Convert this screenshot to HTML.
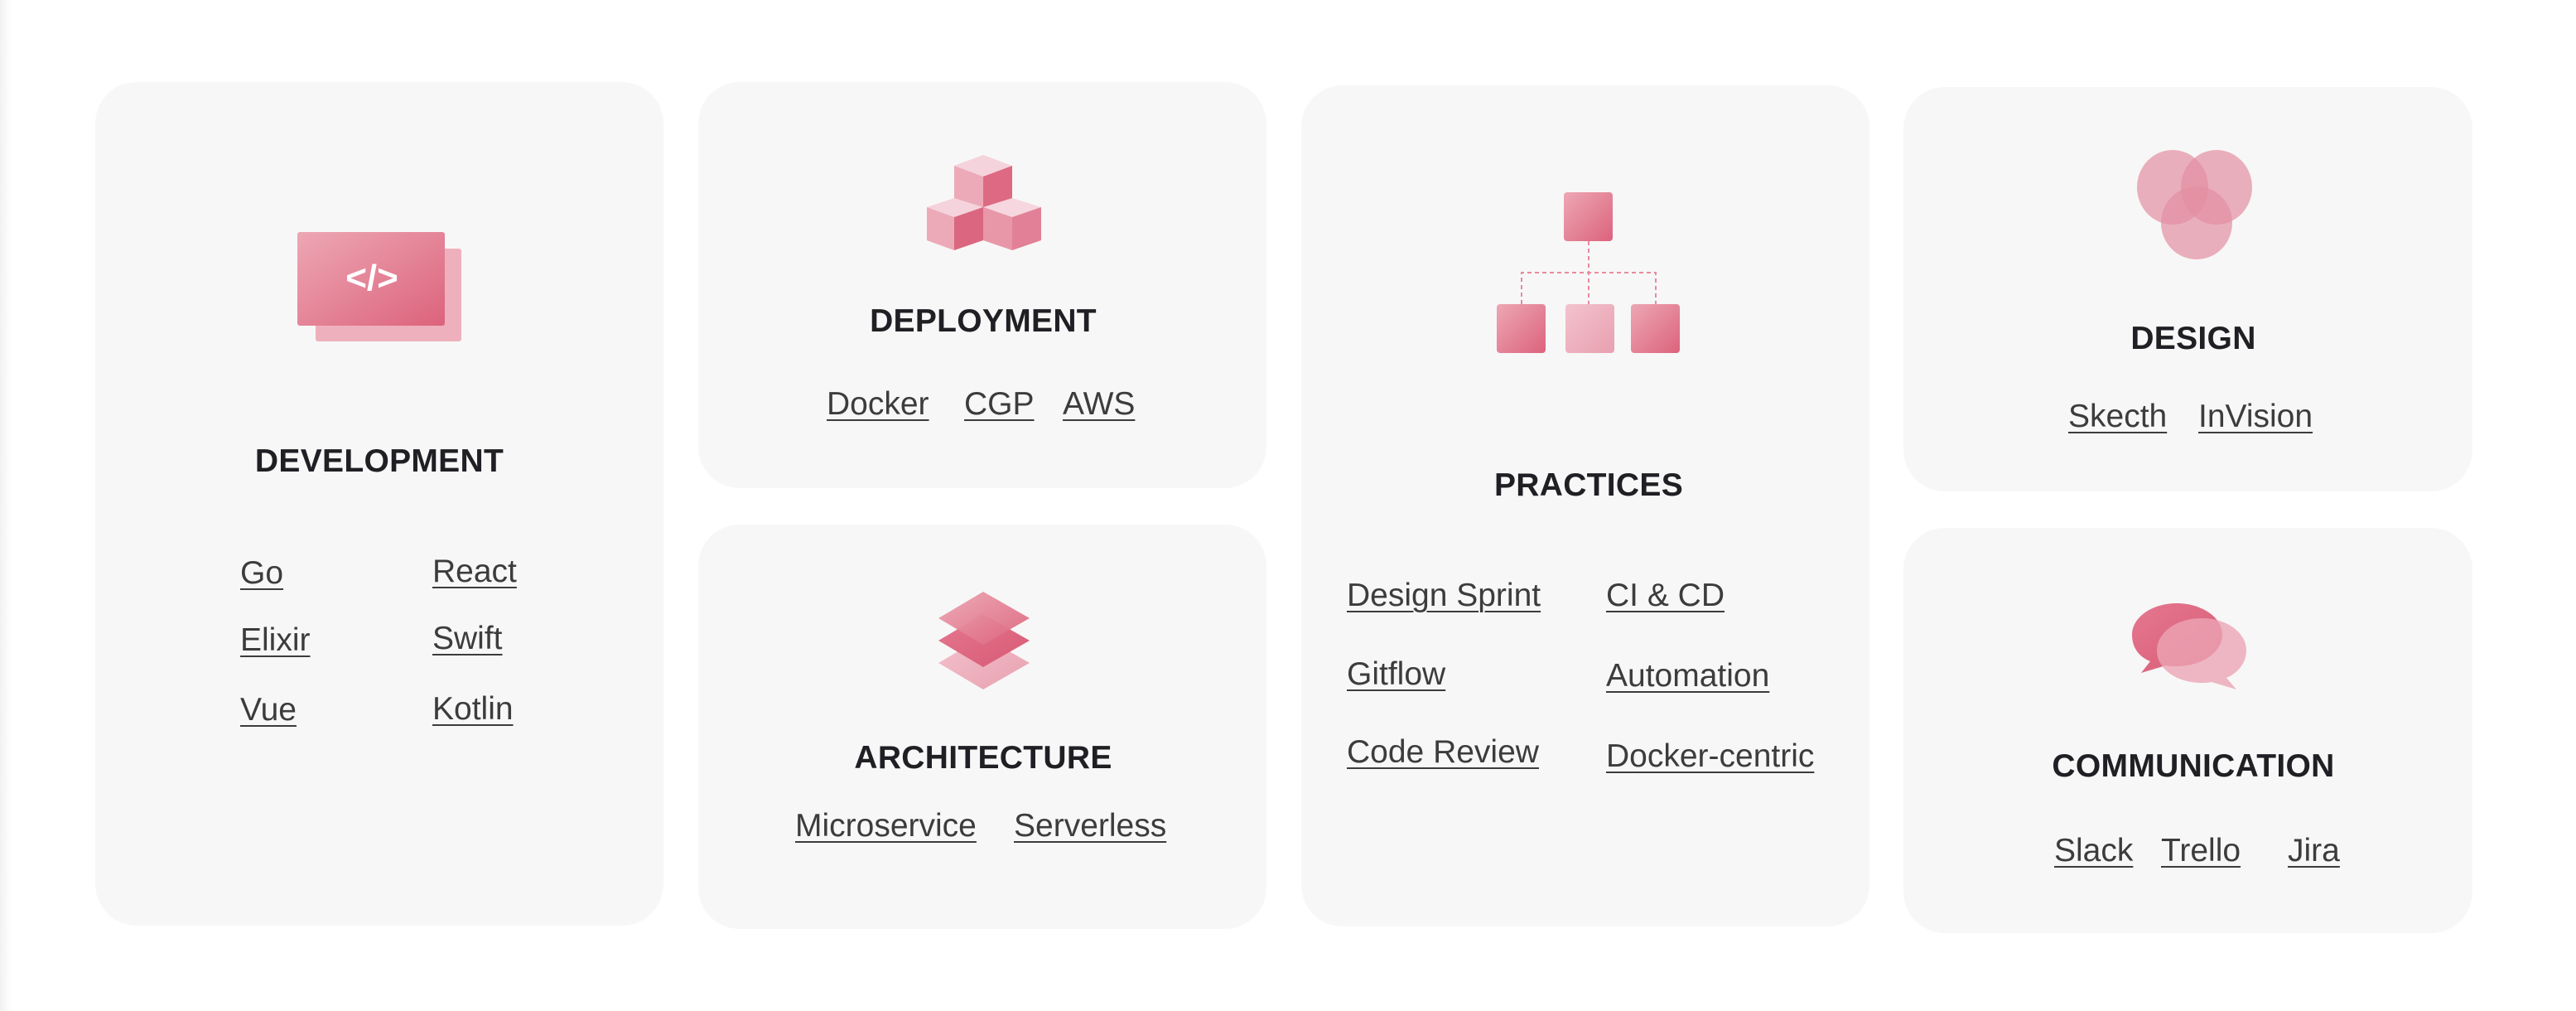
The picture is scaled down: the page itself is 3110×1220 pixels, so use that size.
<!DOCTYPE html>
<html><head><meta charset="utf-8"><style>
html,body{margin:0;padding:0;}
body{width:3110px;height:1220px;background:#fff;position:relative;overflow:hidden;font-family:"Liberation Sans",sans-serif;}
.edge{position:absolute;left:0;top:0;width:14px;height:1220px;background:linear-gradient(90deg,#f2f2f2,#fff);}
.card{position:absolute;background:#f7f7f7;border-radius:50px;}
.t{position:absolute;transform:translateX(-50%);font-weight:bold;font-size:39px;line-height:44px;color:#1f1f24;white-space:nowrap;letter-spacing:0.3px;}
.l{position:absolute;font-size:39px;line-height:44px;color:#3c3c3c;text-decoration:underline;text-decoration-thickness:2px;text-underline-offset:6px;white-space:nowrap;}
svg{position:absolute;left:0;top:0;}
</style></head><body>
<div class="edge"></div>
<div class="card" style="left:115px;top:99px;width:686px;height:1018px"></div>
<div class="card" style="left:843px;top:99px;width:686px;height:490px"></div>
<div class="card" style="left:843px;top:633px;width:686px;height:488px"></div>
<div class="card" style="left:1571px;top:103px;width:686px;height:1015px"></div>
<div class="card" style="left:2298px;top:105px;width:687px;height:488px"></div>
<div class="card" style="left:2298px;top:637px;width:687px;height:489px"></div>

<svg width="3110" height="1220" viewBox="0 0 3110 1220">
<defs>
<linearGradient id="g1" x1="0" y1="0" x2="1" y2="1"><stop offset="0" stop-color="#eda7b4"/><stop offset="1" stop-color="#dc637c"/></linearGradient>
<linearGradient id="g2" x1="0" y1="0" x2="1" y2="1"><stop offset="0" stop-color="#f3c3cd"/><stop offset="1" stop-color="#e8a0b0"/></linearGradient>
<linearGradient id="g3" x1="0" y1="0" x2="1" y2="1"><stop offset="0" stop-color="#e4788f"/><stop offset="1" stop-color="#d95a75"/></linearGradient>
</defs>
<!-- dev icon -->
<rect x="381" y="300" width="176" height="112" rx="3" fill="#efb0bd"/>
<rect x="359" y="280" width="178" height="113" rx="3" fill="url(#g1)"/>
<text x="449" y="350" text-anchor="middle" font-family="Liberation Sans" font-weight="bold" font-size="44" fill="#fff">&lt;/&gt;</text>
<!-- cubes -->
<g stroke="none">
<polygon points="1187,187 1222,200 1187,213 1152,200" fill="#f5d3dc"/>
<polygon points="1152,200 1187,213 1187,258 1152,245" fill="#ecaab8"/>
<polygon points="1187,213 1222,200 1222,245 1187,258" fill="#dd6a82"/>
<polygon points="1152,239 1187,250 1152,262 1119,250" fill="#f5d3dc"/>
<polygon points="1119,250 1152,262 1152,302 1119,290" fill="#ecaab8"/>
<polygon points="1152,262 1187,250 1187,290 1152,302" fill="#db6680"/>
<polygon points="1222,239 1257,250 1222,262 1187,250" fill="#f6d6df"/>
<polygon points="1187,250 1222,262 1222,302 1187,290" fill="#e897a8"/>
<polygon points="1222,262 1257,250 1257,290 1222,302" fill="#e18096"/>
</g>
<!-- layers -->
<polygon points="1187,768 1243,800 1187,832 1133,800" fill="url(#g2)"/>
<polygon points="1187,741 1243,773 1187,805 1133,773" fill="url(#g3)"/>
<polygon points="1187,714 1243,746 1187,778 1133,746" fill="url(#g1)" opacity="0.95"/>
<!-- practices -->
<g fill="none" stroke="#e88a9e" stroke-width="2" stroke-dasharray="5,4">
<line x1="1918" y1="291" x2="1918" y2="367"/>
<polyline points="1837,367 1837,329 1999,329 1999,367"/>
</g>
<rect x="1888" y="232" width="59" height="59" rx="4" fill="url(#g1)"/>
<rect x="1807" y="367" width="59" height="59" rx="4" fill="url(#g1)"/>
<rect x="1890" y="367" width="59" height="59" rx="4" fill="url(#g2)"/>
<rect x="1969" y="367" width="59" height="59" rx="4" fill="url(#g1)"/>
<!-- design -->
<ellipse cx="2623" cy="226" rx="43" ry="45" fill="#e38ea1" opacity="0.7"/>
<ellipse cx="2676" cy="226" rx="43" ry="45" fill="#e38ea1" opacity="0.7"/>
<ellipse cx="2652" cy="269" rx="43" ry="44" fill="#e38ea1" opacity="0.7"/>
<!-- comm -->
<path d="M2628,728 C2598,728 2574,745 2574,766 C2574,782 2583,793 2596,798 L2585,812 L2615,803 C2619,804 2624,804 2628,804 C2658,804 2683,787 2683,766 C2683,745 2658,728 2628,728Z" fill="url(#g3)"/>
<path d="M2658,746 C2688,746 2712,763 2712,785 C2712,800 2702,812 2688,818 L2700,832 L2670,823 C2666,824 2662,824 2658,824 C2628,824 2604,807 2604,785 C2604,763 2628,746 2658,746Z" fill="#eba5b4" opacity="0.8"/>
</svg>

<div class="t" style="left:458px;top:535px">DEVELOPMENT</div>
<div class="l" style="left:290px;top:670px">Go</div>
<div class="l" style="left:522px;top:668px">React</div>
<div class="l" style="left:290px;top:751px">Elixir</div>
<div class="l" style="left:522px;top:749px">Swift</div>
<div class="l" style="left:290px;top:835px">Vue</div>
<div class="l" style="left:522px;top:834px">Kotlin</div>

<div class="t" style="left:1187px;top:366px">DEPLOYMENT</div>
<div class="l" style="left:998px;top:466px">Docker</div>
<div class="l" style="left:1164px;top:466px">CGP</div>
<div class="l" style="left:1283px;top:466px">AWS</div>

<div class="t" style="left:1187px;top:893px">ARCHITECTURE</div>
<div class="l" style="left:960px;top:975px">Microservice</div>
<div class="l" style="left:1224px;top:975px">Serverless</div>

<div class="t" style="left:1918px;top:564px">PRACTICES</div>
<div class="l" style="left:1626px;top:697px">Design Sprint</div>
<div class="l" style="left:1939px;top:697px">CI &amp; CD</div>
<div class="l" style="left:1626px;top:792px">Gitflow</div>
<div class="l" style="left:1939px;top:794px">Automation</div>
<div class="l" style="left:1626px;top:886px">Code Review</div>
<div class="l" style="left:1939px;top:891px">Docker-centric</div>

<div class="t" style="left:2648px;top:387px">DESIGN</div>
<div class="l" style="left:2497px;top:481px">Skecth</div>
<div class="l" style="left:2654px;top:481px">InVision</div>

<div class="t" style="left:2648px;top:903px">COMMUNICATION</div>
<div class="l" style="left:2480px;top:1005px">Slack</div>
<div class="l" style="left:2609px;top:1005px">Trello</div>
<div class="l" style="left:2762px;top:1005px">Jira</div>
</body></html>
